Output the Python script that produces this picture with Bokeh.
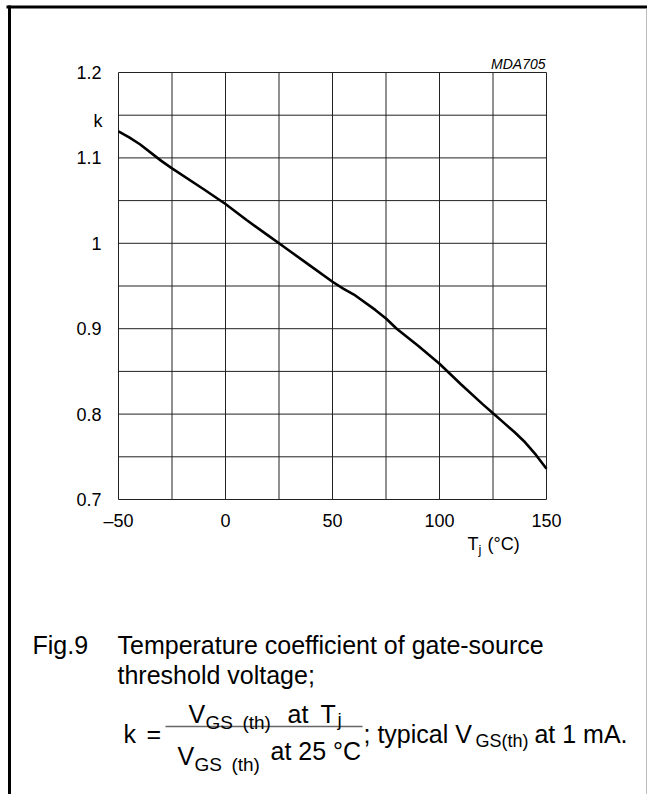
from bokeh.plotting import figure
from bokeh.models import Range1d, FixedTicker, Label
from bokeh.embed import file_html
from bokeh.resources import INLINE

# ---- data ----
temp_c = [-50, -45, -40, -30, -25, -10, 0, 10, 20, 25, 30, 40, 50, 55, 60, 70, 75,
          80, 90, 100, 110, 120, 125, 130, 135, 140, 145, 150]
k_vals = [1.131, 1.124, 1.116, 1.0965, 1.0877, 1.063, 1.046, 1.027, 1.009, 1.000,
          0.991, 0.973, 0.955, 0.947, 0.940, 0.922, 0.912, 0.900, 0.880, 0.859,
          0.835, 0.812, 0.801, 0.790, 0.779, 0.767, 0.7525, 0.736]

x_ticks = [-50, 0, 50, 100, 150]
x_tick_labels = ["\u201350", "0", "50", "100", "150"]
x_grid = [-50, -25, 0, 25, 50, 75, 100, 125, 150]
y_ticks = [0.7, 0.8, 0.9, 1.0, 1.1, 1.2]
y_tick_labels = ["0.7", "0.8", "0.9", "1", "1.1", "1.2"]
y_grid = [0.7, 0.75, 0.8, 0.85, 0.9, 0.95, 1.0, 1.05, 1.1, 1.15, 1.2]

FONT = "Liberation Sans"
W, H = 647, 794

# chart box position on the page (pixels) -> data mapping for the whole canvas
L_PX, R_PX, T_PX, B_PX = 118.0, 546.0, 72.0, 499.0
XMIN, XMAX = x_grid[0], x_grid[-1]
YMIN, YMAX = y_grid[0], y_grid[-1]

def X(px):
    return XMIN + (px - L_PX) * (XMAX - XMIN) / (R_PX - L_PX)

def Y(py):
    return YMAX - (py - T_PX) * (YMAX - YMIN) / (B_PX - T_PX)

p = figure(width=W, height=H, x_range=Range1d(X(0), X(W)), y_range=Range1d(Y(H), Y(0)),
           output_backend="svg", toolbar_location=None,
           min_border_left=0, min_border_right=0, min_border_top=0, min_border_bottom=0)
p.background_fill_color = "white"
p.border_fill_color = "white"
p.outline_line_color = None
p.xgrid.visible = False
p.ygrid.visible = False

# grid (including the box edges)
p.segment(x0=x_grid, y0=[YMIN] * len(x_grid), x1=x_grid, y1=[YMAX] * len(x_grid),
          line_color="#222222", line_width=1)
p.segment(x0=[XMIN] * len(y_grid), y0=y_grid, x1=[XMAX] * len(y_grid), y1=y_grid,
          line_color="#222222", line_width=1)

# axes fixed to the chart box edges
p.xaxis.fixed_location = YMIN
p.xaxis.bounds = (XMIN, XMAX)
p.yaxis.fixed_location = XMIN
p.yaxis.bounds = (YMIN, YMAX)
p.xaxis.ticker = FixedTicker(ticks=x_ticks)
p.xaxis.major_label_overrides = dict(zip(x_ticks, x_tick_labels))
p.yaxis.ticker = FixedTicker(ticks=y_ticks)
p.yaxis.major_label_overrides = dict(zip(y_ticks, y_tick_labels))
for ax in (p.xaxis, p.yaxis):
    ax.axis_line_color = None
    ax.major_tick_line_color = None
    ax.minor_tick_line_color = None
    ax.major_label_text_font = FONT
    ax.major_label_text_font_size = "18px"
    ax.major_label_text_color = "black"
p.xaxis.major_label_standoff = 5
p.yaxis.major_label_standoff = 11

# the curve
p.line(temp_c, k_vals, line_color="black", line_width=2.6)

# page frame: thick left and top rules, thin grey right rule
p.segment(x0=[X(9), X(6)], y0=[Y(5), Y(6.5)], x1=[X(9), X(W)], y1=[Y(H), Y(6.5)],
          line_color="black", line_width=3)
p.segment(x0=[X(646)], y0=[Y(8)], x1=[X(646)], y1=[Y(H)],
          line_color="#bbbbbb", line_width=1)

def txt(s, px, py, size, align="left", style="normal"):
    p.add_layout(Label(x=X(px), y=Y(py), text=s, text_font=FONT,
                       text_font_size=f"{size}px", text_align=align,
                       text_baseline="alphabetic", text_font_style=style,
                       text_color="black"))

# axis quantity labels and figure code
txt("k", 102, 120, 18, align="right")
txt("T", 467, 543, 18)
txt("j", 478, 549, 13)
txt("(\u00b0C)", 487, 543, 18)
txt("MDA705", 545, 63, 14, align="right", style="italic")

# caption
CAP = 25
SUB = 19
txt("Fig.9", 32, 644, CAP)
txt("Temperature coefficient of gate-source", 117, 644, CAP)
txt("threshold voltage;", 117, 674, CAP)
txt("k", 123, 733, CAP)
txt("=", 146, 733, CAP)
# numerator
txt("V", 188, 713, CAP)
txt("GS\u2002(th)", 205, 722, SUB)
txt("at", 287, 713, CAP)
txt("T", 320, 713, CAP)
txt("j", 337, 719, SUB)
# denominator
txt("V", 177, 755, CAP)
txt("GS\u2002(th)", 194, 764, SUB)
txt("at 25 \u00b0C", 270, 750, CAP)
# remainder of the line
txt("; typical V", 363, 733, CAP)
txt("GS(th)", 528, 740, 18, align="right")
txt("at 1 mA.", 627, 733, CAP, align="right")

# fraction bar
p.segment(x0=[X(165)], y0=[Y(726)], x1=[X(362)], y1=[Y(726)],
          line_color="#666666", line_width=1.5)

open("out.html", "w").write(file_html(p, INLINE))
